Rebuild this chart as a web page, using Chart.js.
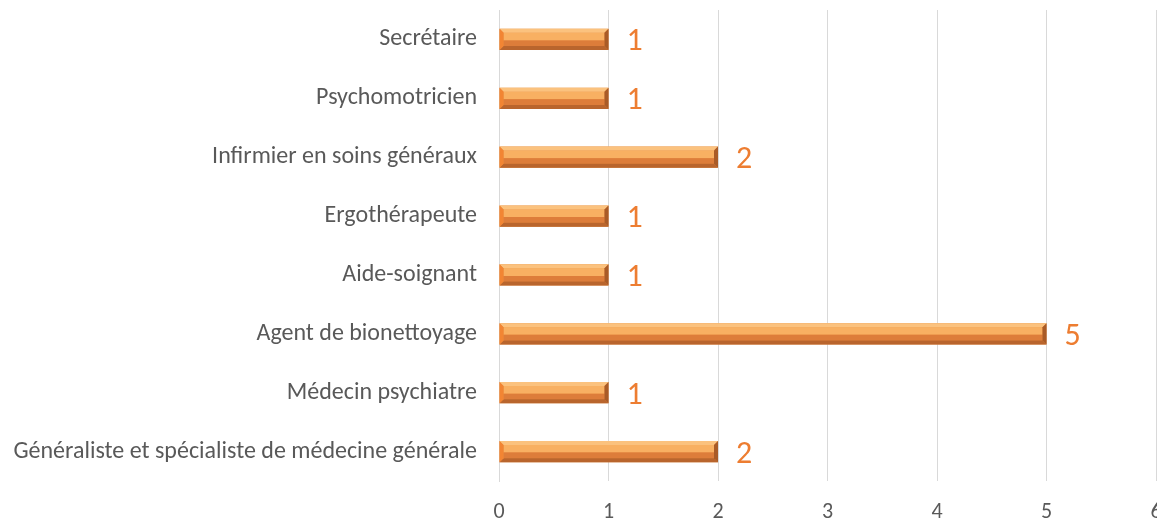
<!DOCTYPE html>
<html lang="fr">
<head>
<meta charset="utf-8">
<script src="https://cdn.jsdelivr.net/npm/chart.js@4/dist/chart.umd.min.js"></script>
<style>
  html, body { margin: 0; padding: 0; background: #ffffff; }
  #wrap { width: 1157px; height: 525px; }
</style>
</head>
<body>
<div id="wrap"><canvas id="chart"></canvas></div>
<script>
// Number of staff per profession
const categories = [
  "Secrétaire",
  "Psychomotricien",
  "Infirmier en soins généraux",
  "Ergothérapeute",
  "Aide-soignant",
  "Agent de bionettoyage",
  "Médecin psychiatre",
  "Généraliste et spécialiste de médecine générale"
];
const counts = [1, 1, 2, 1, 1, 5, 1, 2];
const xTicks = [0, 1, 2, 3, 4, 5, 6];

const FONT = "Carlito, Lato, 'Open Sans', sans-serif";
const GREY = "#595959";
const ORANGE = "#ED7D31";

// Bevelled bar faces, drawn over each bar element
const bevelPlugin = {
  id: "bevel",
  afterDatasetsDraw(chart) {
    const ctx = chart.ctx;
    chart.getDatasetMeta(0).data.forEach((bar) => {
      const { x, y, base, height } = bar.getProps(["x", "y", "base", "height"], true);
      const l = Math.min(base, x), r = Math.max(base, x);
      const t = y - height / 2, b = y + height / 2, m = y;
      const e = 4;
      ctx.save();
      const poly = (pts, color) => {
        ctx.beginPath();
        ctx.moveTo(pts[0][0], pts[0][1]);
        for (let i = 1; i < pts.length; i++) ctx.lineTo(pts[i][0], pts[i][1]);
        ctx.closePath();
        ctx.fillStyle = color;
        ctx.fill();
      };
      poly([[l + e, t + e], [r - e, t + e], [r - e, m + 1], [l + e, m + 1]], "#F8B062");
      poly([[l + e, m + 1], [r - e, m + 1], [r - e, b - e], [l + e, b - e]], "#DD7D3A");
      poly([[l, t], [r, t], [r - e, t + e], [l + e, t + e]], "#FBC27E");
      poly([[l, b], [r, b], [r - e, b - e], [l + e, b - e]], "#B9652D");
      poly([[l, t], [l + e, t + e], [l + e, b - e], [l, b]], "#F28533");
      poly([[r, t], [r - e, t + e], [r - e, b - e], [r, b]], "#A95B27");
      ctx.restore();
    });
  }
};

// Value labels to the right of each bar
const valueLabels = {
  id: "valueLabels",
  afterDatasetsDraw(chart) {
    const ctx = chart.ctx;
    const ds = chart.data.datasets[0];
    ctx.save();
    ctx.fillStyle = ORANGE;
    ctx.font = "32px " + FONT;
    ctx.textAlign = "left";
    ctx.textBaseline = "middle";
    chart.getDatasetMeta(0).data.forEach((bar, i) => {
      const { x, y } = bar.getProps(["x", "y"], true);
      ctx.fillText(String(ds.data[i]), x + 18, y + 3);
    });
    ctx.restore();
  }
};

new Chart(document.getElementById("chart"), {
  type: "bar",
  data: {
    labels: categories,
    datasets: [{
      data: counts,
      backgroundColor: "#E58A3F",
      borderWidth: 0,
      barPercentage: 0.72,
      categoryPercentage: 0.5
    }]
  },
  options: {
    indexAxis: "y",
    responsive: true,
    maintainAspectRatio: false,
    animation: false,
    layout: { padding: { top: 10, right: 1, bottom: 0, left: 0 } },
    plugins: {
      legend: { display: false },
      tooltip: { enabled: false }
    },
    scales: {
      x: {
        min: xTicks[0],
        max: xTicks[xTicks.length - 1],
        afterBuildTicks(scale) { scale.ticks = xTicks.map(v => ({ value: v })); },
        afterFit(scale) {
          scale.height = 44;
          scale.paddingLeft = 0;
          scale.paddingRight = 0;
        },
        grid: { color: "#D9D9D9", lineWidth: 1, drawTicks: false },
        border: { display: false },
        ticks: {
          color: GREY,
          font: { family: FONT, size: 22 },
          padding: 18
        }
      },
      y: {
        afterFit(scale) {
          scale.width = 499;
          scale.paddingTop = 0;
          scale.paddingBottom = 0;
        },
        grid: { display: false, drawTicks: false },
        border: { display: true, color: "#D9D9D9" },
        ticks: {
          color: GREY,
          font: { family: FONT, size: 24 },
          padding: 22
        }
      }
    }
  },
  plugins: [bevelPlugin, valueLabels]
});
</script>
</body>
</html>
